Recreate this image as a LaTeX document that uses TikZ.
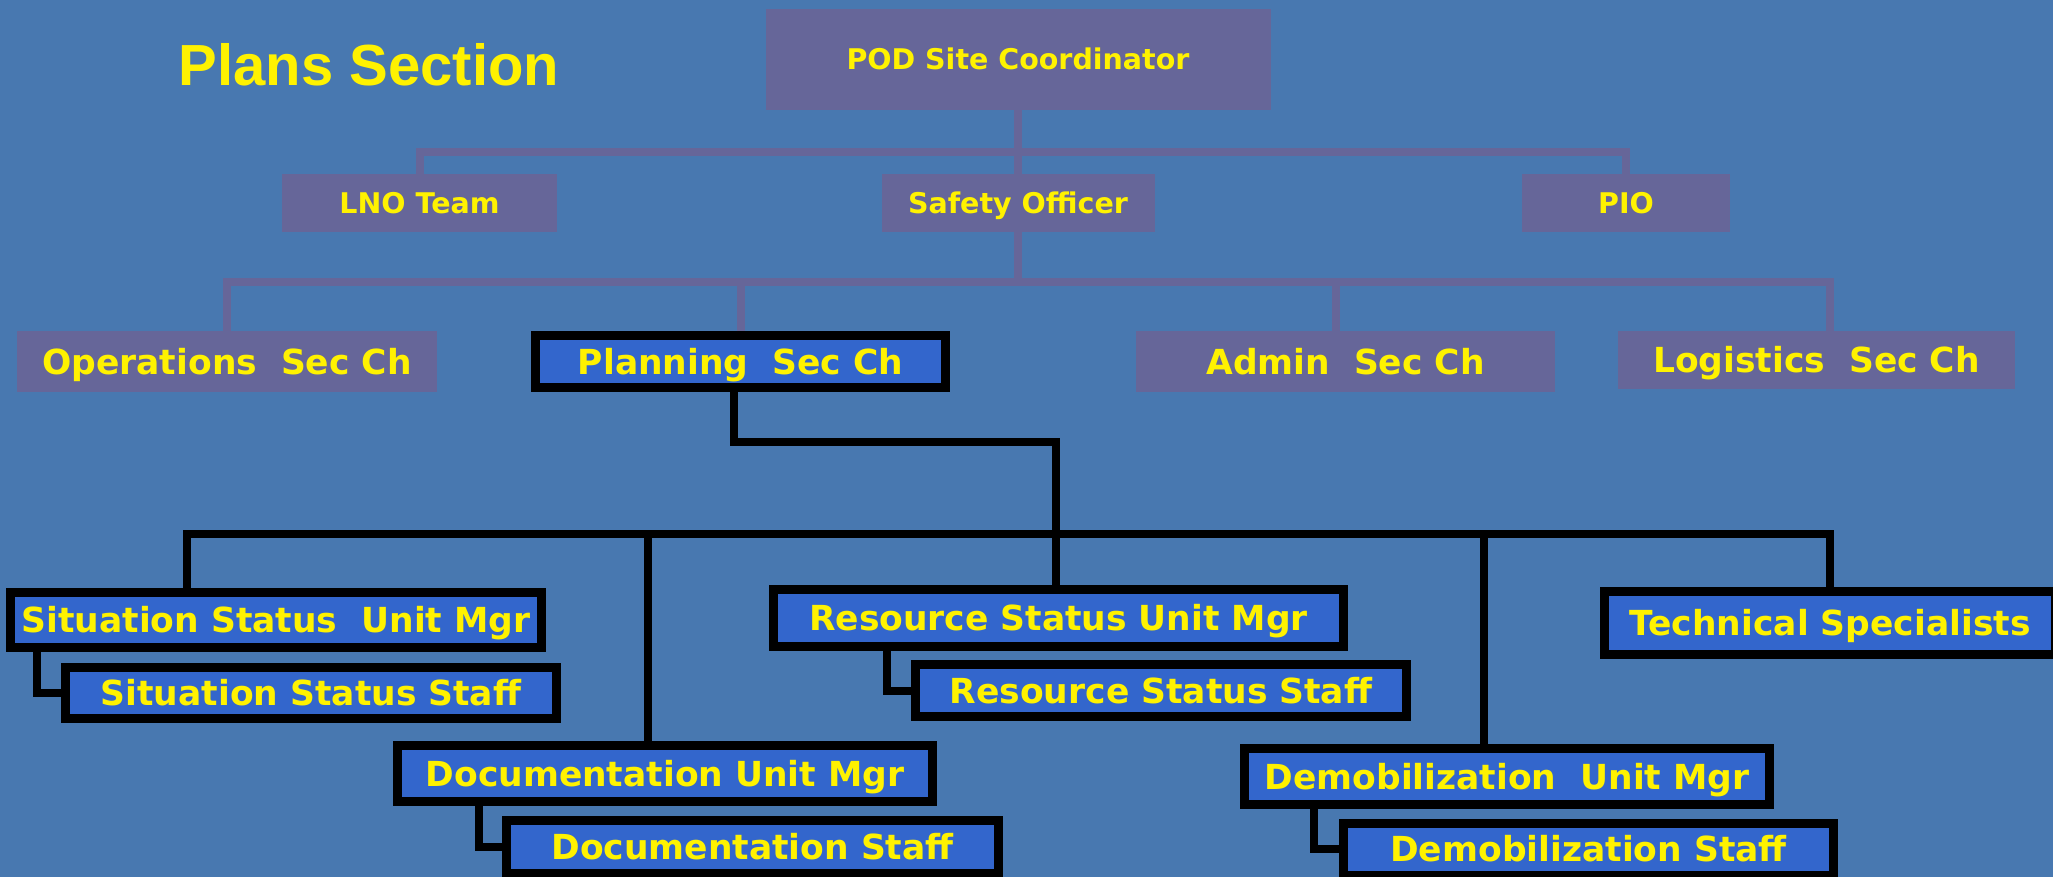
\documentclass[tikz,border=0pt]{standalone}
\usepackage{fontspec}
\setmainfont{DejaVu Sans}
\newfontfamily\headfont{Liberation Sans}
\usetikzlibrary{positioning}
\usetikzlibrary{calc}

\definecolor{bgblue}{RGB}{72,120,176}
\definecolor{boxpurple}{RGB}{102,102,153}
\definecolor{unitblue}{RGB}{51,102,204}

\begin{document}
\begin{tikzpicture}[x=1pt,y=-1pt,
 cmdbox/.style={fill=boxpurple,text=yellow,inner sep=0pt,text height=20.8pt,text depth=0pt,
  font=\bfseries\fontsize{28.5}{32}\selectfont},
 secbox/.style={cmdbox,text height=25.2pt,font=\bfseries\fontsize{34.5}{40}\selectfont},
 unitbox/.style={draw=black,line width=9pt,fill=unitblue,text=yellow,inner sep=0pt,
  text height=25.2pt,text depth=0pt,font=\bfseries\fontsize{34.5}{40}\selectfont},
 cmdline/.style={boxpurple,line width=8pt},
 unitline/.style={black,line width=8pt}]
\useasboundingbox(0,0)rectangle(2053,877);
\clip(0,0)rectangle(2053,877);
\fill[bgblue](0,0)rectangle(2053,877);

\node[anchor=base,text=yellow,font=\headfont\bfseries\fontsize{58}{64}\selectfont]
(title)at(369,86){Plans Section};

%%command staff
\foreach \n/\x/\y/\w/\h/\t in {pod/1018/59.5/505/101/POD Site Coordinator,
lno/419.5/203/275/58/LNO Team,safety/1018/203/273/58/Safety Officer,pio/1626/203/208/58/PIO}
\node[cmdbox,minimum width=\w,minimum height=\h](\n)at(\x,\y){\t};

%%section chiefs
\foreach \n/\x/\y/\w/\h/\t in {ops/227/361.5/420/61/Operations\ \ Sec Ch,
admin/1345.5/361.5/419/61/Admin\ \ Sec Ch,logist/1816.5/360/397/58/Logistics\ \ Sec Ch}
\node[secbox,minimum width=\w,minimum height=\h](\n)at(\x,\y){\t};

%%planning units
\foreach \n/\x/\y/\w/\h/\t in {plan/740.5/361.5/410/52/Planning\ \ Sec Ch,
sitmgr/276/620/531/55/Situation Status\ \ Unit Mgr,
sitstaff/311/693/491/51/Situation Status Staff,
docmgr/665/773.5/535/56/Documentation Unit Mgr,
docstaff/752.5/847/492/53/Documentation Staff,
resmgr/1058.5/618/570/57/Resource Status Unit Mgr,
resstaff/1161/690.5/491/52/Resource Status Staff,
techspec/1830/623/451/63/Technical Specialists,
demmgr/1507/776.5/525/56/Demobilization\ \ Unit Mgr,
demstaff/1588.5/849/490/52/Demobilization Staff}
\node[unitbox,minimum width=\w,minimum height=\h](\n)at(\x,\y){\t};

%Lines top
\coordinate(bus1)at(1018,152);
\coordinate(bus2)at(1018,282);
\draw[cmdline](pod.south)--(safety.north);
\draw[cmdline](lno.north)|-(bus1)-|(pio.north);
\draw[cmdline](safety.south)--(bus2);
\draw[cmdline](ops.north)|-(bus2)-|([xshift=13.5]logist.north);
\coordinate(admtop)at([xshift=-9.5]admin.north);
\draw[cmdline](admtop)--(admtop|-bus2);
\draw[cmdline](plan.north)--(plan.north|-bus2);

%Lines planning
\coordinate(elbow)at(1056,442);
\coordinate(bus3)at(1056,534);
\draw[unitline]([xshift=-6.5]plan.south)|-(elbow)--(elbow|-resmgr.north);
\draw[unitline]([xshift=-89]sitmgr.north)|-(bus3)-|(techspec.north);
\foreach \b/\s in {docmgr/-17,demmgr/-23}{
\coordinate(\b top)at([xshift=\s]\b.north);
\draw[unitline](\b top)--(\b top|-bus3);
}
\foreach \m/\s/\o in {sitmgr/sitstaff/31,docmgr/docstaff/86,resmgr/resstaff/118,demmgr/demstaff/74}
\draw[unitline]([xshift=\o]\m.south west)|-(\s.west);
\end{tikzpicture}
\end{document}
